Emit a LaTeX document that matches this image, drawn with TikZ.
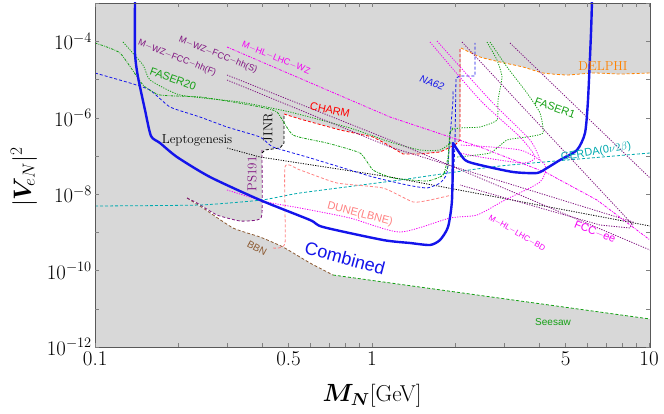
\documentclass[tikz,border=0pt]{standalone}
\usepackage{bm}
\usepackage{fontspec}
\newfontfamily\lsans{Liberation Sans}
\definecolor{bggrey}{RGB}{216,216,216}
\definecolor{cgreen}{RGB}{20,160,20}
\definecolor{cpurple}{RGB}{128,20,128}
\definecolor{cmag}{RGB}{245,0,245}
\definecolor{cblue}{RGB}{20,20,235}
\definecolor{csalmon}{RGB}{255,130,130}
\definecolor{cbrown}{RGB}{140,90,50}
\definecolor{corange}{RGB}{255,130,0}
\definecolor{ccyan}{RGB}{0,170,175}
\definecolor{cred}{RGB}{255,0,0}
\tikzset{
 dsh/.style={line width=0.8pt,dash pattern=on 3pt off 2pt},
 dtt/.style={line width=0.8pt,dash pattern=on 1.2pt off 1.3pt},
 dshdot/.style={line width=0.8pt,dash pattern=on 2.5pt off 1.2pt on 0.8pt off 1.2pt},
 lab/.style={font=\lsans\fontsize{9}{9}\selectfont,inner sep=0pt},
 slab/.style={font=\fontsize{13}{13}\selectfont,inner sep=0pt},
 ticklab/.style={font=\fontsize{21}{21}\selectfont,inner sep=1pt}
}
\begin{document}
\begin{tikzpicture}[x=1pt,y=-1pt]
\useasboundingbox (0,0) rectangle (664,414);
% background
\fill[bggrey] (95,3) rectangle (650,347);
\fill[white] plot[smooth,tension=0.3] coordinates{(262,153) (262,214) (257,220) (240,221) (217,215) (197,203) (187,198)}
 -- plot[smooth,tension=0.3] coordinates{(203,208) (233,228) (260,237) (283,247) (310,263) (333,275)}
 -- (650,319) -- (650,73)
 -- plot[smooth,tension=0.3] coordinates{(620,74) (593,73) (567,75) (543,73) (523,67) (500,62) (480,57) (461,48)}
 -- (460,140) -- (455,145) -- (440,152) -- (420,154) -- (403,154) -- (388,145) -- (373,137) -- (340,130) -- (300,119) -- (284,114)
 -- (284,143) -- (280,148) -- (265,150) -- cycle;
\begin{scope}
\clip (95,3) rectangle (650,347);
% Seesaw
\draw[cgreen,dsh] (333,275) -- (650,319);
% BBN
\draw[cbrown,dsh] plot[smooth,tension=0.3] coordinates{(187,198) (203,208) (233,228) (260,237) (283,247) (310,263) (333,275)};
% PS191
\draw[cpurple,dsh] plot[smooth,tension=0.3] coordinates{(262,150) (262,214) (257,220) (240,221) (217,215) (197,203) (187,198)};
% JINR
\draw[black,dsh] (262,153) -- (265,150) -- (280,148) -- (284,143) -- (284,114);
% CHARM
\draw[cred,dsh] (284,114) -- (300,119) -- (340,130) -- (373,137) -- (388,145) -- (403,154) -- (420,154) -- (440,152) -- (455,145) -- (460,140) -- (460,48);
% DELPHI
\draw[corange,dsh] plot[smooth,tension=0.3] coordinates{(461,48) (480,57) (500,62) (523,67) (543,73) (567,75) (593,73) (620,74) (650,73)};
% GERDA
\draw[ccyan,dsh] plot[smooth,tension=0.3] coordinates{(95,206) (200,205) (262,200) (300,193) (400,180) (500,166) (650,153)};
% DUNE
\draw[csalmon,dsh] plot[smooth,tension=0.3] coordinates{(273,248) (285,243) (285,167) (300,170) (337,183) (383,188) (413,202) (430,200) (452,195)};
% Leptogenesis
\draw[black,dtt] (227,148) -- (260,157) -- (390,177) -- (650,226);
% blue dashed
\draw[cblue,dsh] plot[smooth,tension=0.3] coordinates{(95,73) (130,83) (150,90) (170,107) (200,117) (227,127) (260,137) (273,147) (307,157) (340,167) (373,177) (407,185) (427,188) (440,183) (447,173) (450,137) (453,100) (453,90)};
% NA62
\draw[cblue,dsh] (453,187) -- (455,143) -- (456,78) -- (460,76) -- (475,76) -- (475,43);
% FASER20 green
\draw[cgreen,dshdot] plot[smooth,tension=0.3] coordinates{(95,43) (120,53) (143,85) (160,95) (200,97) (233,102) (260,107) (277,112) (293,135) (327,143) (360,153) (373,170) (393,178) (427,181) (443,175) (448,157) (450,132) (453,128)};
\draw[cgreen,dtt] plot[smooth,tension=0.3] coordinates{(123,42) (143,65) (150,80) (180,95) (240,102) (290,112) (350,128) (390,142) (420,150) (440,150) (452,142)};
% FASER1
\draw[cgreen,dtt] plot[smooth,tension=0.3] coordinates{(487,42) (497,60) (502,77) (498,100) (497,120) (480,127) (460,128) (450,132) (448,167) (440,178)};
\draw[cgreen,dtt] plot[smooth,tension=0.3] coordinates{(490,42) (507,67) (527,93) (540,113) (543,133) (527,137) (507,140) (490,153) (457,157)};
% purple FCC-hh
\draw[cpurple,dtt] (227,75) -- (390,140) -- (650,250);
\draw[cpurple,dtt] (227,80) -- (390,147) -- (633,222) -- (630,228) -- (600,225) -- (460,185);
\draw[cpurple,dtt] (462,42) -- (633,225);
\draw[cpurple,dtt] (510,43) -- (650,178);
% magenta WZ
\draw[cmag,dshdot] (227,47) -- (390,117) -- (480,147) -- (547,173) -- (597,200) -- (650,240);
% magenta loops
\draw[cmag,dtt] plot[smooth,tension=0.4] coordinates{(430,42) (480,100) (520,137) (535,157) (523,163) (480,157) (460,153)};
\draw[cmag,dtt] plot[smooth,tension=0.4] coordinates{(437,41) (490,100) (530,140) (540,160)};
% M-HL-LHC-BD
\draw[cmag,dtt] plot[smooth,tension=0.4] coordinates{(227,190) (267,202) (300,208) (350,218) (400,232) (450,218) (477,215) (505,200) (540,182) (545,165) (520,150) (460,145)};
% Combined
\draw[cblue,line width=2.4pt,line join=round] plot[smooth,tension=0.4] coordinates{(135,0) (135,53) (138,77) (145,110) (151,136) (160,143) (177,157) (210,177) (260,200) (310,220) (323,227) (383,240) (410,243) (430,245) (440,240) (448,227) (452,200) (453,143)}
 -- plot[smooth,tension=0.4] coordinates{(453,143) (465,160) (480,165) (513,172) (537,173) (547,168) (560,160) (577,150) (585,133) (588,100) (591,33) (592,0)};
\end{scope}
% frame and ticks
\draw[gray!70!black,line width=0.8pt] (95,3) rectangle (650,347);
\foreach \m in {0.1,0.2,0.3,0.4,0.5,0.6,0.7,0.8,0.9,1,2,3,4,5,6,7,8,9,10}{
  \draw[gray] ({372+277*log10(\m)},347) -- ++(0,-4);
  \draw[gray] ({372+277*log10(\m)},3) -- ++(0,4);
}
\foreach \k in {0,...,9}{
  \draw[gray] (95,{347-38.2*\k}) -- ++(4,0);
  \draw[gray] (650,{347-38.2*\k}) -- ++(-4,0);
}
\foreach \m/\t in {0.1/0.1,0.5/0.5,1/1,5/5,10/10}
  \node[ticklab,anchor=north] (xt\m) at ({372+277*log10(\m)},350) {\t};
\foreach \k/\t in {0/12,2/10,4/8,6/6,8/4}
  \node[ticklab,anchor=east] (yt\k) at (93,{347-38.2*\k}) {$10^{-\t}$};
\node[font=\fontsize{23}{23}\selectfont] (xl) at (372,396) {$\bm{M_N}$[GeV]};
\node[font=\fontsize{24}{24}\selectfont,rotate=90] (yl) at (24,177) {$|\bm{V}_{\!eN}|^2$};
% labels
\node[lab,cpurple,rotate=-22] (l1) at (177,58) {M$-$WZ$-$FCC$-$hh(F)};
\node[lab,cpurple,rotate=-22] (l2) at (218,55) {M$-$WZ$-$FCC$-$hh(S)};
\node[lab,cmag,rotate=-22] (l3) at (276,58) {M$-$HL$-$LHC$-$WZ};
\node[lab,cgreen,rotate=-20,font=\lsans\fontsize{11}{11}\selectfont] (l4) at (173,79) {FASER20};
\node[lab,cred,rotate=-12,font=\lsans\fontsize{11}{11}\selectfont] (l5) at (330,110) {CHARM};
\node[slab,black,rotate=90] (l6) at (268,128) {JINR};
\node[slab,black] (l7) at (197,140) {Leptogenesis};
\node[slab,cpurple,rotate=90] (l8) at (252,174) {PS191};
\node[lab,csalmon,rotate=-15,font=\lsans\fontsize{11}{11}\selectfont] (l9) at (360,214) {DUNE(LBNE)};
\node[lab,cbrown,rotate=-28,font=\lsans\fontsize{10}{10}\selectfont] (l10) at (257,248) {BBN};
\node[lab,cblue,rotate=-15,font=\lsans\fontsize{18}{18}\selectfont] (l11) at (345,258) {Combined};
\node[lab,cblue,rotate=-20,font=\lsans\itshape\fontsize{10}{10}\selectfont] (l12) at (432,83) {NA62};
\node[lab,cgreen,rotate=-20,font=\lsans\fontsize{11}{11}\selectfont] (l13) at (555,108) {FASER1};
\node[slab,corange] (l14) at (603,66) {DELPHI};
\node[lab,ccyan,rotate=10,font=\lsans\fontsize{11}{11}\selectfont] (l15) at (596,152) {GERDA(0$\nu2\beta$)};
\node[lab,cmag,rotate=-30,font=\lsans\fontsize{8}{8}\selectfont] (l16) at (517,233) {M$-$HL$-$LHC$-$BD};
\node[lab,cmag,rotate=-22,font=\lsans\fontsize{11}{11}\selectfont] (l17) at (595,232) {FCC$-$ee};
\node[lab,cgreen,font=\lsans\fontsize{10}{10}\selectfont] (l18) at (553,322) {Seesaw};
\end{tikzpicture}
\end{document}
